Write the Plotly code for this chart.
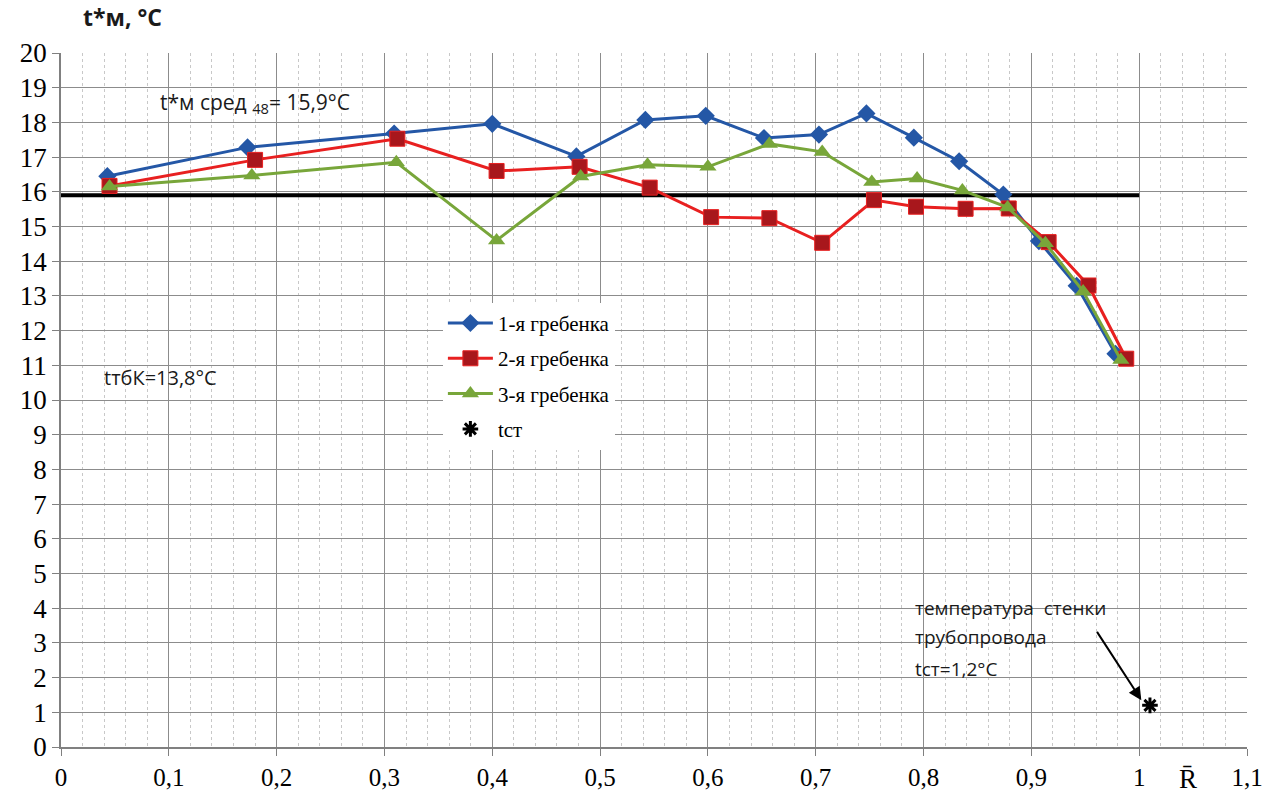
import plotly.graph_objects as go

# Relative radius R̄ and stagnation temperature t*м (°C) for each rake
r_1 = [0.043, 0.173, 0.309, 0.400, 0.478, 0.542, 0.598, 0.652, 0.703, 0.747,
       0.791, 0.833, 0.874, 0.907, 0.942, 0.978]
t_1 = [16.45, 17.28, 17.68, 17.96, 17.02, 18.07, 18.19, 17.55, 17.65, 18.26,
       17.56, 16.88, 15.92, 14.58, 13.29, 11.33]

r_2 = [0.045, 0.180, 0.312, 0.404, 0.481, 0.546, 0.603, 0.657, 0.706, 0.754,
       0.793, 0.839, 0.879, 0.916, 0.953, 0.988]
t_2 = [16.17, 16.92, 17.53, 16.60, 16.72, 16.12, 15.27, 15.24, 14.53, 15.76,
       15.57, 15.51, 15.52, 14.55, 13.30, 11.19]

r_3 = [0.045, 0.177, 0.311, 0.404, 0.482, 0.544, 0.600, 0.657, 0.706, 0.752,
       0.794, 0.836, 0.878, 0.913, 0.948, 0.983]
t_3 = [16.15, 16.47, 16.85, 14.60, 16.44, 16.78, 16.72, 17.38, 17.15, 16.28,
       16.38, 16.04, 15.55, 14.52, 13.13, 11.15]

# Wall temperature of the pipeline
r_wall = [1.01]
t_wall = [1.2]

# Mean temperature over 48 points
t_mean = 15.9
r_mean = [0.0, 1.0]

series_names = ["1-я гребенка", "2-я гребенка", "3-я гребенка", "tст"]

x_tickvals = [0, 0.1, 0.2, 0.3, 0.4, 0.5, 0.6, 0.7, 0.8, 0.9, 1.0, 1.1]
x_ticktext = ["0", "0,1", "0,2", "0,3", "0,4", "0,5", "0,6", "0,7", "0,8", "0,9", "1", "1,1"]
y_tickvals = list(range(0, 21))

wall_note = ["температура  стенки", "трубопровода", "tст=1,2°C"]

BLUE = "#2457a6"
RED = "#e82020"
RED_MK = "#a8171c"
GREEN = "#78a63a"

SERIF = "Times New Roman, Liberation Serif, DejaVu Serif, serif"
SANS = "Open Sans, Liberation Sans, sans-serif"

fig = go.Figure()

fig.add_trace(go.Scatter(
    x=r_mean, y=[t_mean, t_mean], mode="lines",
    line=dict(color="black", width=4), showlegend=False, hoverinfo="skip"))

fig.add_trace(go.Scatter(
    x=r_1, y=t_1, mode="lines+markers", name=series_names[0], legendgroup="a",
    line=dict(color=BLUE, width=3),
    marker=dict(symbol="diamond", size=14, color=BLUE)))

fig.add_trace(go.Scatter(
    x=r_2, y=t_2, mode="lines+markers", name=series_names[1], legendgroup="b",
    line=dict(color=RED, width=3),
    marker=dict(symbol="square", size=15, color=RED_MK, line=dict(color=RED, width=1))))

fig.add_trace(go.Scatter(
    x=r_3, y=t_3, mode="lines+markers", name=series_names[2], legendgroup="c",
    line=dict(color=GREEN, width=3),
    marker=dict(symbol="triangle-up", size=15, color=GREEN)))

fig.add_trace(go.Scatter(
    x=r_wall, y=t_wall, mode="markers", name=series_names[3], legendgroup="d",
    marker=dict(symbol="asterisk-open", size=13, color="black",
                line=dict(color="black", width=3))))

fig.update_xaxes(
    range=[0, 1.1], tickvals=x_tickvals, ticktext=x_ticktext,
    tickfont=dict(family=SERIF, size=25, color="black"),
    showline=True, linecolor="#808080", linewidth=1.5,
    ticks="outside", ticklen=7, tickcolor="#808080",
    showgrid=True, gridcolor="#8c8c8c", gridwidth=1.2,
    minor=dict(dtick=0.02, showgrid=True, gridcolor="#c8c8c8", griddash="dot", gridwidth=1),
    zeroline=False, fixedrange=True)

fig.update_yaxes(
    range=[0, 20], tickvals=y_tickvals,
    tickfont=dict(family=SERIF, size=27, color="black"),
    showline=True, linecolor="#808080", linewidth=1.5,
    ticks="outside", ticklen=7, tickcolor="#808080",
    showgrid=True, gridcolor="#8c8c8c", gridwidth=1.2,
    zeroline=False, fixedrange=True)

fig.add_annotation(x=0.0, y=1.0, xref="paper", yref="paper", xshift=20, yshift=18,
                   xanchor="left", yanchor="bottom", showarrow=False,
                   text="<b>t*м, °C</b>",
                   font=dict(family=SANS, size=23, color="#1a1a1a"))

fig.add_annotation(x=1.045, y=0, xref="x", yref="y", yshift=-15,
                   xanchor="center", yanchor="top", showarrow=False,
                   text="R\u0304", font=dict(family=SERIF, size=27, color="black"))

fig.add_annotation(x=0.09, y=18.55, xref="x", yref="y",
                   xanchor="left", yanchor="middle", showarrow=False,
                   text="t*м сред <sub>48</sub>= 15,9°C",
                   font=dict(family=SANS, size=21, color="#1a1a1a"))

fig.add_annotation(x=0.038, y=10.65, xref="x", yref="y",
                   xanchor="left", yanchor="middle", showarrow=False,
                   text="tтбК=13,8°C", font=dict(family=SANS, size=20, color="#1a1a1a"))

for line_text, y_pos in zip(wall_note, [4.02, 3.16, 2.24]):
    fig.add_annotation(x=0.79, y=y_pos, xref="x", yref="y",
                       xanchor="left", yanchor="middle", showarrow=False,
                       text=line_text,
                       font=dict(family=SANS, size=19, color="#1a1a1a"))

fig.add_annotation(x=1.002, y=1.35, ax=0.96, ay=3.36, xref="x", yref="y",
                   axref="x", ayref="y", text="", showarrow=True,
                   arrowhead=2, arrowsize=1.3, arrowwidth=2, arrowcolor="black")

fig.update_layout(
    width=1275, height=803,
    margin=dict(l=61, r=24, t=53, b=53),
    paper_bgcolor="white", plot_bgcolor="white",
    legend=dict(x=0.322, y=0.64, xanchor="left", yanchor="top",
                bgcolor="white", borderwidth=0, itemwidth=45,
                tracegroupgap=5,
                font=dict(family=SERIF, size=21, color="black")),
)

fig.write_html("out.html")
